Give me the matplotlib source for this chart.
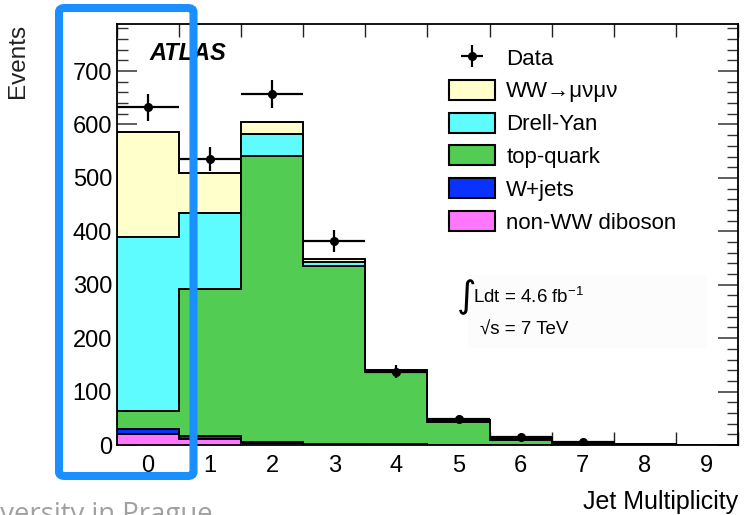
"""
Jet multiplicity in the WW -> mu nu mu nu selection, stacked backgrounds vs data
"""

import matplotlib
matplotlib.use('Agg')
import matplotlib.pyplot as plt
import numpy as np
from matplotlib.patches import Patch, FancyBboxPatch, Rectangle
from matplotlib.ticker import MultipleLocator

plt.rcParams['font.family'] = ['Liberation Sans', 'DejaVu Sans']

# Bin edges for jet multiplicity 0..9
edges = np.arange(-0.5, 10.0, 1.0)
n_jets = [0, 1, 2, 3, 4, 5, 6, 7, 8, 9]

# Expected events per process and bin
non_ww = [20, 11, 3, 1, 0.5, 0.2, 0, 0, 0, 0]
w_jets = [10, 6, 2, 1, 0.5, 0.2, 0, 0, 0, 0]
top_quark = [34, 275, 536, 333, 136, 43, 10, 4, 1, 0]
drell_yan = [326, 142, 41, 7, 1, 1, 1, 0, 0, 0]
ww = [196, 75, 23, 7, 3, 2, 2, 1, 0, 0]

# Observed data (bins 0..7)
data_x = [0, 1, 2, 3, 4, 5, 6, 7]
data_y = [632, 535, 657, 382, 137, 49, 15, 5]
data_err = [25, 23, 26, 20, 12, 7, 4, 2]

stack = [
    (non_ww, '#ff77ff', 'non-WW diboson'),
    (w_jets, '#0a32ff', 'W+jets'),
    (top_quark, '#52cc52', 'top-quark'),
    (drell_yan, '#5ffcff', 'Drell-Yan'),
    (ww, '#ffffcc', 'WW\u2192\u03bc\u03bd\u03bc\u03bd'),
]

fig = plt.figure(figsize=(7.46, 5.15), dpi=100)
ax = fig.add_axes([0.1568, 0.1359, 0.8324, 0.8175])

# cumulative sums, drawn from the top of the stack down
cums = np.cumsum([np.array(s[0], dtype=float) for s in stack], axis=0)
for i in range(len(stack) - 1, -1, -1):
    ax.stairs(cums[i], edges, baseline=0, fill=True,
              facecolor=stack[i][1], edgecolor='black', linewidth=1.4, zorder=2)

eb = ax.errorbar(data_x, data_y, xerr=0.5, yerr=data_err, fmt='o', color='black',
                 ms=5.5, elinewidth=1.6, capsize=0, zorder=4)

ax.set_xlim(-0.5, 9.5)
ax.set_ylim(0, 788)

# x: labels at integers, ticks at bin edges
ax.set_xticks(n_jets)
ax.set_xticklabels([str(n) for n in n_jets])
ax.xaxis.set_minor_locator(MultipleLocator(1.0, offset=0.5))
ax.tick_params(axis='x', which='major', length=0, pad=7, labelsize=17)
ax.tick_params(axis='x', which='minor', direction='in', length=9.5, width=1.0,
               top=True, bottom=True, color='#222222')

ax.yaxis.set_major_locator(MultipleLocator(100))
ax.yaxis.set_minor_locator(MultipleLocator(20))
ax.tick_params(axis='y', which='major', direction='in', length=14.5, width=1.1,
               left=True, right=True, pad=3.5, labelsize=17, color='#333333')
ax.tick_params(axis='y', which='minor', direction='in', length=8, width=1.0,
               left=True, right=True, color='#333333')
for sp in ax.spines.values():
    sp.set_linewidth(1.3)
    sp.set_zorder(5)

ax.set_ylabel('Events', fontsize=17.5, color='#222222')
ax.yaxis.set_label_coords(-0.142, 0.912)
fig.text(0.989, 0.011, 'Jet Multiplicity', ha='right', va='baseline', fontsize=18)

ax.text(0.052, 0.93, 'ATLAS', transform=ax.transAxes, fontsize=17,
        fontweight='bold', style='italic', va='center')

# luminosity box
ax.add_patch(Rectangle((0.565, 0.23), 0.385, 0.175, transform=ax.transAxes,
                       facecolor='#fcfcfc', edgecolor='none', zorder=1))
ax.text(0.546, 0.352, r'$\int$', transform=ax.transAxes, fontsize=19, va='center')
ax.text(0.574, 0.352, r'Ldt = 4.6 fb$^{\mathregular{-1}}$', transform=ax.transAxes,
        fontsize=13.5, va='center')
ax.text(0.584, 0.272, '\u221as = 7 TeV', transform=ax.transAxes,
        fontsize=13.5, va='center')

handles = [eb] + [Patch(facecolor=c, edgecolor='black', linewidth=1.5)
                  for _, c, _ in stack[::-1]]
labels = ['Data'] + [lab for _, _, lab in stack[::-1]]
ax.legend(handles, labels, loc='upper left', bbox_to_anchor=(0.509, 0.982),
          frameon=False, fontsize=16, handlelength=2.1, handleheight=1.0,
          handletextpad=0.5, labelspacing=0.46, borderpad=0.2)

# highlight frame around the zero-jet bin
fig.patches.append(FancyBboxPatch((59 / 746, 1 - 476 / 515), 134.5 / 746, 468 / 515,
                                  boxstyle='round,pad=0,rounding_size=0.008',
                                  transform=fig.transFigure, facecolor='none',
                                  edgecolor='#1a8fff', linewidth=5.8, zorder=10))

fig.text(213 / 746, -7 / 515, 'Charles University in Prague', ha='right', va='baseline',
         fontsize=19.8, color='#a0a0a0', family='Open Sans')

fig.savefig('out.png', dpi=100)
